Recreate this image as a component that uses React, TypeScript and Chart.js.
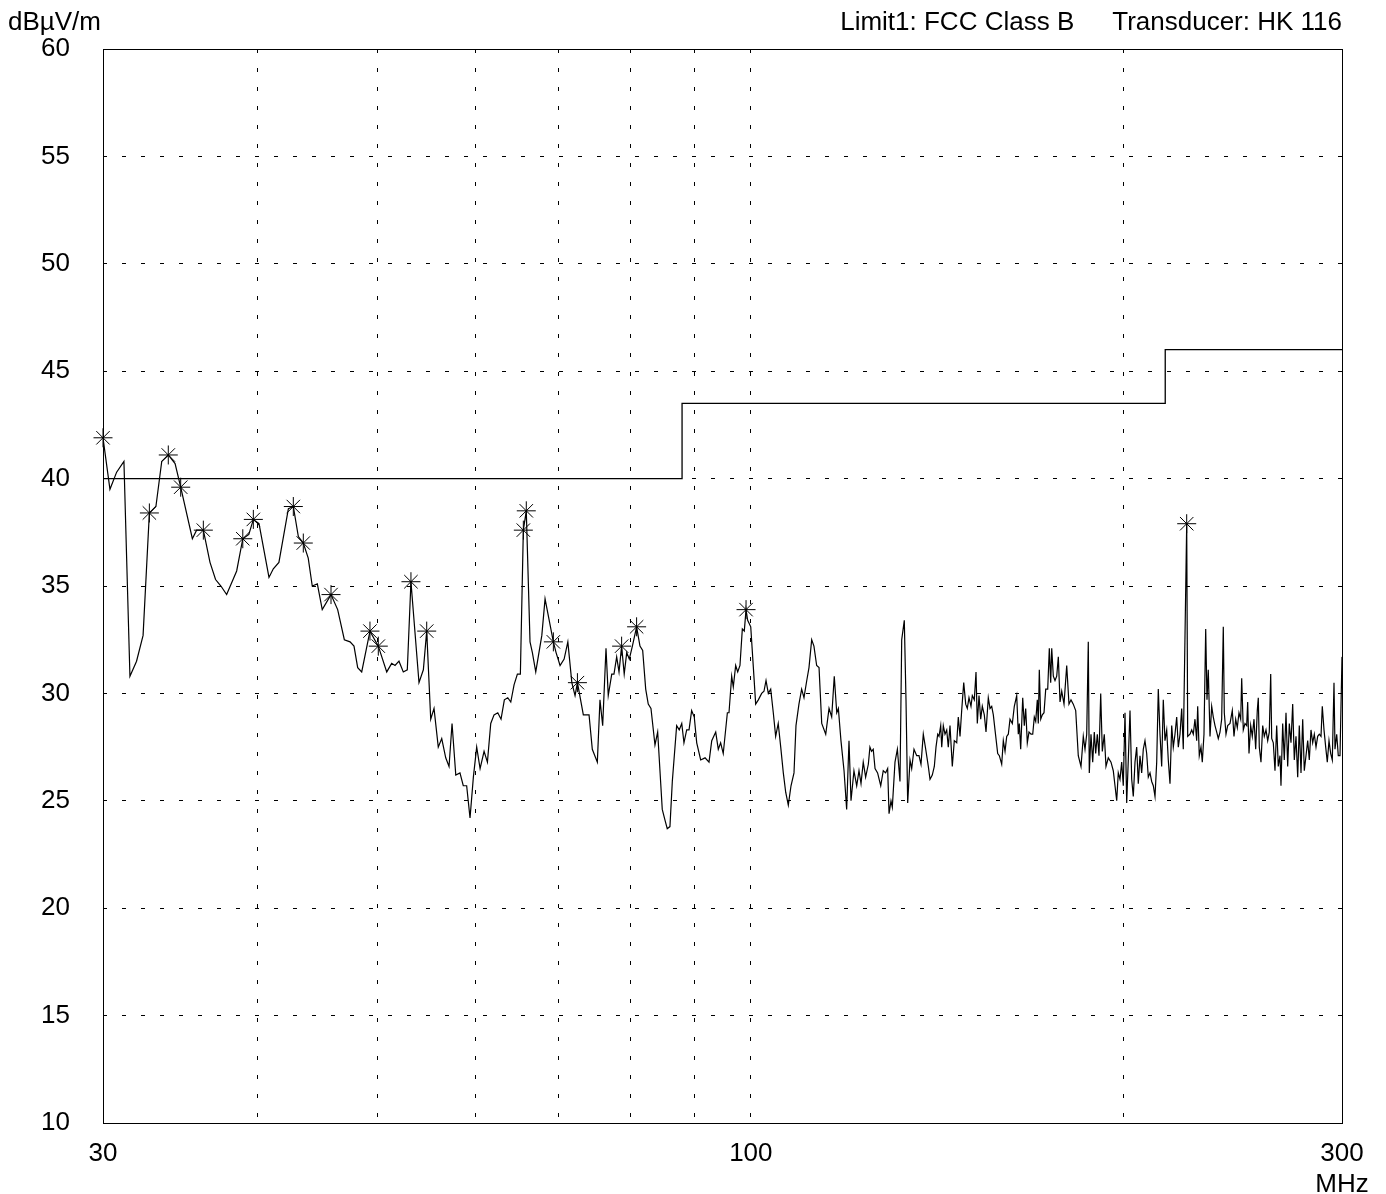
import React, { useEffect, useRef } from "react";
import { Chart, registerables } from "chart.js";

Chart.register(...registerables);

const FONT_FAMILY = "'Liberation Sans', Arial, Helvetica, sans-serif";

// Header texts
const unitLabel = "dBµV/m";
const limitLabel = "Limit1: FCC Class B";
const transducerLabel = "Transducer: HK 116";

// Frequency axis (MHz): grid positions and printed labels
const freqGrid = [30, 40, 50, 60, 70, 80, 90, 100, 200, 300];
const freqLabels: Record<number, string | string[]> = { 30: "30", 100: "100", 300: ["300", "MHz"] };

// Level axis (dBµV/m)
const levelTicks = [10, 15, 20, 25, 30, 35, 40, 45, 50, 55, 60];

// FCC Class B limit (stepped)
const limitFreq = [30, 88, 88, 216, 216, 300];
const limitLevel = [40, 40, 43.5, 43.5, 46, 46];

// Measured sweep, 30 - 100 MHz
const sweepLowFreq = [
  30.0, 30.39, 30.77, 31.19, 31.54, 31.93, 32.32, 32.7, 33.1, 33.46,
  33.87, 34.3, 34.66, 35.42, 35.7, 36.15, 36.6, 36.98, 37.35, 37.75,
  38.46, 38.9, 39.34, 39.67, 40.09, 40.84, 41.17, 41.6, 42.34, 42.73,
  43.13, 43.53, 43.93, 44.26, 44.68, 45.09, 45.83, 46.4, 46.98, 47.48,
  47.83, 48.16, 48.52, 49.27, 50.04, 50.83, 51.3, 51.62, 52.0, 52.42,
  52.81, 53.17, 53.97, 54.41, 54.75, 55.16, 55.5, 55.94, 56.3, 56.72,
  57.07, 57.39, 57.79, 58.24, 58.6, 58.97, 59.34, 59.71, 60.08, 60.46,
  60.91, 61.29, 61.67, 62.05, 62.48, 62.86, 63.25, 63.65, 64.01, 64.4,
  64.8, 65.16, 65.52, 65.88, 66.34, 66.63, 67.05, 67.81, 68.22, 69.28,
  69.63, 70.15, 70.68, 71.17, 71.7, 72.13, 72.45, 73.25, 74.03, 74.48,
  75.18, 75.55, 75.93, 76.4, 76.72, 77.22, 77.54, 77.93, 78.27, 78.65,
  79.03, 79.4, 79.78, 80.24, 80.87, 81.38, 81.79, 82.25, 82.64, 83.06,
  83.68, 84.1, 84.82, 85.25, 85.61, 86.04, 86.42, 87.12, 87.54, 87.95,
  88.31, 88.76, 89.15, 89.58, 90.02, 90.43, 91.1, 91.84, 92.52, 92.99,
  93.68, 94.13, 94.54, 95.0, 95.73, 96.02, 96.5, 96.79, 97.22, 97.59,
  98.0, 98.43, 98.79, 99.11, 99.41, 99.98,
];
const sweepLowLevel = [
  41.9, 39.5, 40.3, 40.8, 30.8, 31.5, 32.7, 38.4, 38.7, 40.8,
  41.1, 40.7, 39.6, 37.2, 37.6, 37.6, 36.1, 35.3, 35.0, 34.6,
  35.7, 37.2, 37.4, 38.1, 37.9, 35.4, 35.8, 36.1, 38.6, 38.7,
  37.3, 37.0, 36.3, 35.0, 35.1, 33.9, 34.6, 33.9, 32.5, 32.4,
  32.2, 31.2, 31.0, 32.9, 32.2, 31.0, 31.4, 31.3, 31.5, 31.0,
  31.1, 35.2, 30.5, 31.1, 32.9, 28.8, 29.3, 27.5, 27.9, 27.0,
  26.6, 28.6, 26.2, 26.3, 25.7, 25.7, 24.2, 26.1, 27.5, 26.5,
  27.3, 26.8, 28.6, 29.0, 29.1, 28.8, 29.7, 29.8, 29.6, 30.4,
  30.9, 30.9, 37.6, 38.5, 32.4, 31.9, 31.0, 32.7, 34.4, 32.4,
  31.9, 31.3, 31.6, 32.4, 30.5, 29.9, 30.5, 29.0, 29.0, 27.4,
  26.8, 29.7, 28.5, 32.1, 29.9, 30.9, 30.9, 31.7, 31.0, 32.2,
  30.9, 31.9, 31.6, 32.2, 33.1, 32.2, 32.0, 30.2, 29.5, 29.3,
  27.6, 28.2, 24.6, 24.1, 23.7, 23.8, 25.9, 28.5, 28.3, 28.6,
  27.7, 28.3, 28.3, 29.2, 28.9, 27.7, 26.9, 27.0, 26.8, 27.8,
  28.2, 27.4, 27.7, 27.2, 29.1, 29.1, 30.8, 30.3, 31.3, 31.0,
  31.3, 33.0, 32.9, 33.9, 33.4, 33.1,
];

// Measured sweep, 100 - 134 MHz
const sweepMidFreq = [
  100.47, 100.9, 101.4, 102.03, 102.47, 102.86, 103.3, 103.76, 104.26, 104.72,
  105.22, 105.71, 106.22, 106.69, 107.21, 107.75, 108.35, 108.75, 109.35, 109.9,
  110.38, 110.95, 111.41, 111.97, 112.44, 113.01, 113.51, 114.08, 114.93, 115.64,
  116.21, 116.77, 117.31, 117.66, 118.23, 118.91, 119.49, 120.01, 120.46, 121.12,
  121.74, 122.26, 122.72, 123.23, 123.78, 124.4, 124.77, 125.16, 125.54, 125.96,
  126.56, 127.3, 127.9, 128.47, 128.95, 129.28, 129.75, 130.07, 130.72, 131.3,
  131.94, 132.36, 133.0, 133.42, 133.84,
];
const sweepMidLevel = [
  31.2, 29.5, 29.7, 30.0, 30.1, 30.6, 30.0, 30.2, 29.1, 28.0,
  28.6, 27.5, 26.3, 25.4, 24.8, 25.7, 26.3, 28.5, 29.5, 30.2,
  29.8, 30.6, 31.2, 32.5, 32.2, 31.3, 31.2, 28.6, 28.1, 29.3,
  28.9, 30.8, 29.1, 29.3, 27.8, 26.4, 24.6, 27.8, 25.0, 26.4,
  25.7, 26.4, 25.8, 26.8, 26.1, 26.7, 27.5, 27.3, 27.4, 26.5,
  26.3, 25.7, 26.4, 26.3, 26.5, 24.4, 25.0, 24.7, 26.8, 27.4,
  25.9, 32.5, 33.4, 29.7, 24.9,
];

// Measured sweep, 134 - 300 MHz
const sweepHighFreq = [
  134.42, 134.84, 135.42, 136.1, 136.68, 137.19, 137.78, 138.4, 139.07, 139.51,
  140.1, 140.63, 141.07, 141.52, 141.86, 142.31, 142.58, 143.0, 143.45, 143.91,
  144.33, 144.79, 145.41, 145.95, 146.61, 147.04, 147.51, 147.97, 148.53, 149.08,
  149.52, 149.99, 150.55, 150.92, 151.48, 151.96, 152.33, 152.81, 153.29, 153.75,
  154.32, 154.81, 155.47, 155.97, 156.46, 156.93, 157.42, 158.21, 158.69, 159.39,
  159.87, 160.38, 160.88, 161.36, 161.87, 162.57, 163.17, 163.9, 164.39, 164.69,
  165.12, 165.74, 166.23, 166.66, 167.16, 167.69, 168.31, 168.85, 169.35, 169.79,
  170.3, 170.61, 170.93, 171.38, 171.89, 172.43, 172.98, 173.62, 174.14, 174.59,
  174.92, 175.44, 175.99, 176.55, 177.08, 177.64, 178.2, 178.96, 179.86, 180.62,
  181.3, 182.07, 182.89, 183.77, 184.7, 185.49, 186.08, 186.67, 187.22, 187.57,
  188.16, 188.76, 189.32, 189.81, 190.38, 190.98, 191.59, 192.16, 192.87, 193.48,
  194.31, 195.29, 196.12, 196.75, 197.37, 197.95, 198.58, 199.21, 199.8, 200.44,
  201.07, 201.67, 202.31, 202.95, 203.55, 204.2, 204.84, 205.45, 206.1, 206.75,
  207.37, 208.02, 208.68, 209.31, 209.97, 210.63, 211.26, 211.93, 212.6, 213.23,
  213.91, 214.58, 215.22, 215.9, 216.59, 217.23, 217.92, 218.61, 219.26, 219.95,
  220.65, 221.31, 222.01, 222.71, 223.37, 224.79, 225.21, 226.17, 226.89, 227.56,
  228.28, 229.0, 229.43, 230.11, 230.84, 231.4, 232.13, 232.87, 233.43, 233.99,
  234.74, 235.48, 236.18, 236.93, 237.68, 238.38, 239.14, 239.89, 240.61, 241.06,
  241.82, 242.58, 243.63, 244.67, 245.44, 246.22, 246.95, 247.73, 248.52, 248.98,
  249.72, 250.51, 251.3, 251.77, 252.38, 253.18, 253.93, 254.74, 255.54, 256.3,
  256.78, 257.26, 258.07, 258.89, 259.66, 260.48, 261.31, 262.08, 262.77, 263.26,
  264.04, 264.87, 265.71, 266.5, 267.35, 267.84, 268.69, 269.49, 270.35, 271.2,
  272.01, 272.87, 273.73, 274.55, 275.42, 276.29, 277.11, 277.99, 278.87, 279.7,
  280.58, 281.47, 282.31, 283.2, 284.1, 284.95, 285.85, 286.75, 287.61, 288.52,
  289.21, 290.13, 291.05, 291.91, 292.84, 293.77, 294.64, 295.57, 296.12, 297.06,
  297.94, 298.89, 300.0,
];
const sweepHighLevel = [
  26.9, 26.5, 27.4, 27.1, 27.1, 26.7, 28.1, 27.4, 26.6, 26.0,
  26.2, 26.6, 27.5, 28.1, 28.0, 28.5, 27.5, 28.5, 28.1, 28.3,
  27.5, 28.5, 26.6, 27.8, 27.7, 28.9, 28.0, 29.2, 30.5, 29.5,
  29.3, 29.8, 29.4, 29.9, 29.7, 31.0, 28.6, 29.9, 28.8, 29.4,
  29.0, 28.2, 29.8, 29.3, 29.4, 29.0, 28.3, 27.2, 27.1, 26.7,
  27.8, 27.3, 28.0, 28.1, 28.8, 28.6, 29.4, 29.9, 28.1, 28.6,
  27.4, 29.8, 28.5, 29.3, 27.7, 28.2, 28.1, 28.1, 28.9, 28.7,
  29.7, 28.6, 31.1, 28.8, 29.0, 29.1, 30.2, 30.2, 32.1, 30.5,
  32.1, 30.8, 30.6, 30.8, 31.7, 29.6, 30.1, 29.5, 31.3, 29.5,
  29.7, 29.5, 29.2, 27.1, 26.6, 28.0, 27.4, 28.1, 32.4, 26.3,
  28.1, 26.8, 28.2, 27.2, 28.1, 27.1, 30.0, 27.3, 28.1, 26.6,
  27.0, 26.8, 26.4, 25.7, 25.0, 26.3, 26.0, 26.8, 25.7, 29.1,
  24.9, 26.9, 29.2, 26.0, 25.2, 26.8, 27.5, 25.8, 27.1, 26.3,
  27.4, 27.8, 27.2, 26.1, 26.3, 25.9, 25.7, 25.2, 26.8, 30.2,
  28.1, 26.6, 29.7, 27.8, 28.3, 26.9, 25.8, 28.5, 27.5, 28.1,
  28.9, 27.5, 28.1, 29.3, 27.4, 37.9, 28.0, 28.1, 28.3, 28.1,
  28.8, 27.8, 29.4, 27.1, 27.5, 26.8, 28.1, 33.0, 29.7, 31.1,
  28.0, 29.4, 28.9, 28.5, 28.2, 27.9, 28.2, 28.8, 33.1, 29.1,
  28.1, 28.5, 28.6, 29.2, 28.0, 28.8, 28.4, 29.1, 28.8, 30.7,
  28.3, 28.6, 28.5, 29.6, 27.2, 28.5, 28.0, 28.8, 27.4, 29.2,
  29.8, 27.5, 26.8, 28.5, 28.0, 28.3, 27.8, 28.2, 30.9, 27.9,
  27.7, 26.4, 28.5, 26.6, 27.1, 25.7, 28.6, 26.9, 29.1, 26.6,
  28.6, 27.7, 29.5, 26.9, 28.0, 26.1, 28.5, 26.3, 28.8, 26.4,
  27.1, 27.8, 26.9, 28.3, 27.7, 28.1, 27.5, 28.0, 28.1, 28.0,
  29.4, 28.3, 27.5, 26.8, 27.8, 27.2, 26.9, 30.5, 27.4, 28.1,
  27.1, 27.1, 31.7,
];

// Peak markers found on the sweep
const peakFreq = [
  30.0, 32.7, 33.87, 34.66, 36.15, 38.9, 39.67, 42.73, 43.53, 45.83, 49.27,
  50.04, 53.17, 54.75, 65.52, 65.88, 69.28, 72.45, 78.65, 80.87, 99.11, 224.79,
];
const peakLevel = [
  41.9, 38.4, 41.1, 39.6, 37.6, 37.2, 38.1, 38.7, 37.0, 34.6, 32.9,
  32.2, 35.2, 32.9, 37.6, 38.5, 32.4, 30.5, 32.2, 33.1, 33.9, 37.9,
];

const toPoints = (xs: number[], ys: number[]) =>
  xs.slice(0, Math.min(xs.length, ys.length)).map((x, i) => ({ x, y: ys[i] }));

const sweepPoints = [
  ...toPoints(sweepLowFreq, sweepLowLevel),
  ...toPoints(sweepMidFreq, sweepMidLevel),
  ...toPoints(sweepHighFreq, sweepHighLevel),
];

const framePlugin = {
  id: "frameAndHeader",
  beforeDraw(chart: any) {
    const { ctx, width, height } = chart;
    ctx.save();
    ctx.fillStyle = "#ffffff";
    ctx.fillRect(0, 0, width, height);
    ctx.restore();
  },
  afterDraw(chart: any) {
    const { ctx, chartArea: a } = chart;
    ctx.save();
    ctx.setLineDash([]);
    ctx.strokeStyle = "#000";
    ctx.lineWidth = 1;
    ctx.strokeRect(a.left + 0.5, a.top + 0.5, a.right - a.left, a.bottom - a.top);

    ctx.fillStyle = "#000";
    ctx.font = `26px ${FONT_FAMILY}`;
    ctx.textBaseline = "alphabetic";
    ctx.textAlign = "left";
    ctx.fillText(unitLabel, 8, 30);
    ctx.textAlign = "right";
    ctx.fillText(transducerLabel, a.right, 30);
    const tw = ctx.measureText(transducerLabel).width;
    ctx.fillText(limitLabel, a.right - tw - 38, 30);
    ctx.restore();
  },
};

const gridColor = (edges: number[]) => (c: any) =>
  c.tick && edges.includes(c.tick.value) ? "rgba(0,0,0,0)" : "#000";

export default function App() {
  const canvasRef = useRef<HTMLCanvasElement>(null);

  useEffect(() => {
    if (!canvasRef.current) return;
    const chart = new Chart(canvasRef.current, {
      type: "line",
      data: {
        datasets: [
          {
            label: "Peaks",
            type: "scatter",
            data: toPoints(peakFreq, peakLevel),
            showLine: false,
            pointStyle: "star",
            pointRadius: 9.5,
            borderColor: "#000",
            backgroundColor: "#000",
            pointBorderWidth: 1,
            clip: false,
          } as any,
          {
            label: "Level",
            data: sweepPoints,
            borderColor: "#000",
            borderWidth: 1.2,
            pointRadius: 0,
            tension: 0,
            fill: false,
          },
          {
            label: "Limit1",
            data: toPoints(limitFreq, limitLevel),
            borderColor: "#000",
            borderWidth: 1.3,
            pointRadius: 0,
            tension: 0,
            fill: false,
          },
        ],
      },
      options: {
        animation: false,
        responsive: false,
        devicePixelRatio: 1,
        events: [],
        layout: { padding: { top: 49, right: 44, left: 0, bottom: 0 } },
        plugins: {
          legend: { display: false },
          tooltip: { enabled: false },
          title: { display: false },
        },
        scales: {
          x: {
            type: "logarithmic",
            min: 30,
            max: 300,
            afterBuildTicks: (scale: any) => {
              scale.ticks = freqGrid.map((value) => ({ value }));
            },
            afterFit: (scale: any) => {
              scale.height = 71;
            },
            grid: {
              color: gridColor([30, 300]),
              lineWidth: 1,
              drawTicks: false,
            },
            border: { display: false, dash: [4, 15] },
            ticks: {
              autoSkip: false,
              maxRotation: 0,
              minRotation: 0,
              padding: 15,
              color: "#000",
              font: { size: 26, family: FONT_FAMILY, lineHeight: 1.2 },
              callback: (v: any) => freqLabels[Number(v)] ?? "",
            },
          },
          y: {
            type: "linear",
            min: 10,
            max: 60,
            afterBuildTicks: (scale: any) => {
              scale.ticks = levelTicks.map((value) => ({ value }));
            },
            afterFit: (scale: any) => {
              scale.width = 103;
            },
            grid: {
              color: gridColor([10, 60]),
              lineWidth: 1,
              drawTicks: false,
            },
            border: { display: false, dash: [4, 15] },
            ticks: {
              padding: 33,
              color: "#000",
              font: { size: 26, family: FONT_FAMILY },
              callback: (v: any) => String(v),
            },
          },
        },
      } as any,
      plugins: [framePlugin],
    });
    return () => chart.destroy();
  }, []);

  return (
    <div style={{ position: "absolute", left: 0, top: 0, width: 1386, height: 1194, background: "#fff" }}>
      <canvas
        ref={canvasRef}
        width={1386}
        height={1194}
        style={{ display: "block", width: 1386, height: 1194 }}
      />
    </div>
  );
}
